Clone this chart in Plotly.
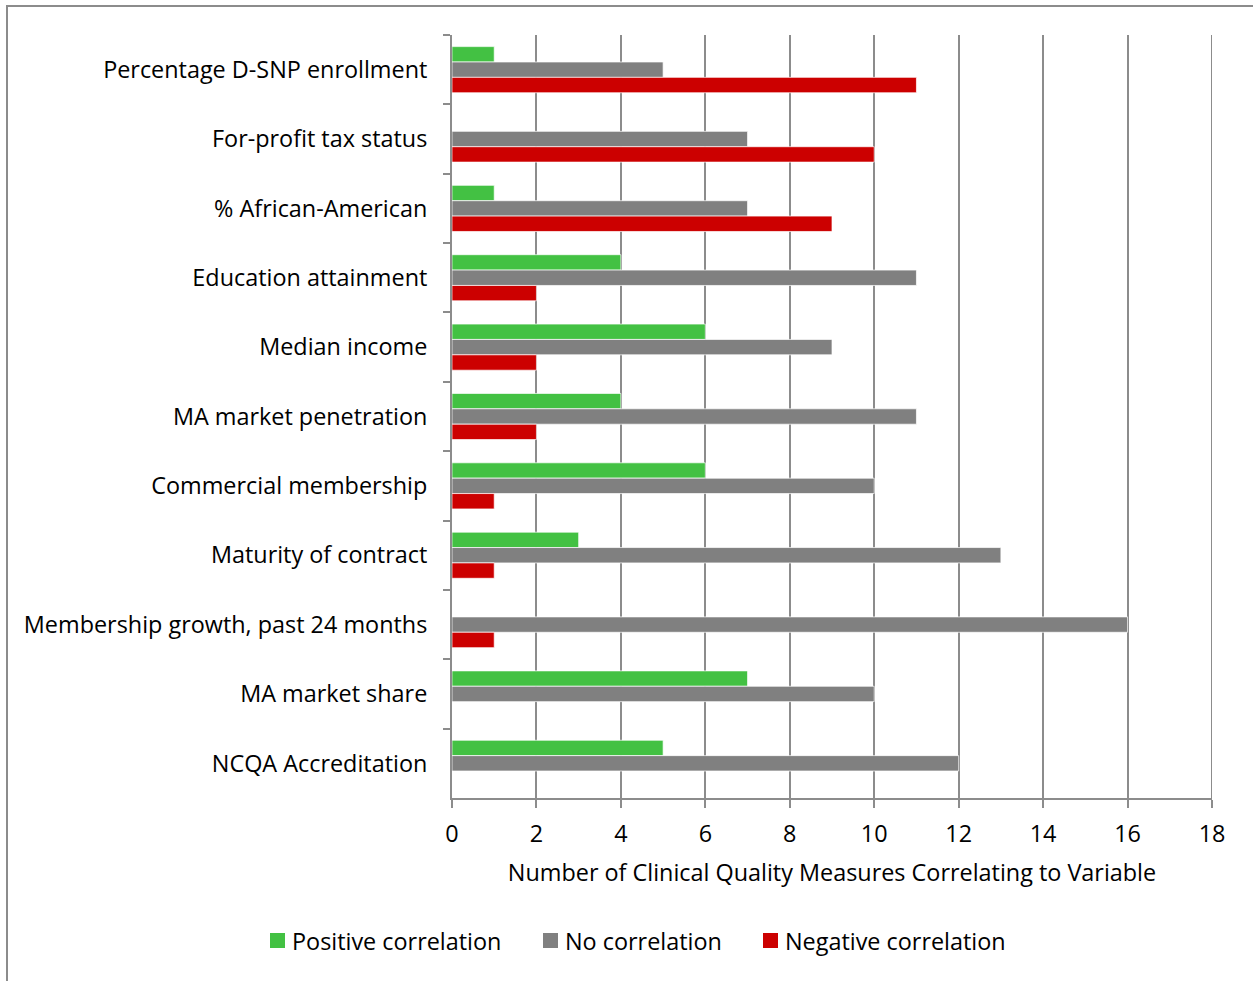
import plotly.graph_objects as go

categories = [
    "Percentage D-SNP enrollment",
    "For-profit tax status",
    "% African-American",
    "Education attainment",
    "Median income",
    "MA market penetration",
    "Commercial membership",
    "Maturity of contract",
    "Membership growth, past 24 months",
    "MA market share",
    "NCQA Accreditation",
]
positive = [1, 0, 1, 4, 6, 4, 6, 3, 0, 7, 5]
no_corr = [5, 7, 7, 11, 9, 11, 10, 13, 16, 10, 12]
negative = [11, 10, 9, 2, 2, 2, 1, 1, 1, 0, 0]
x_max = 18

series = [
    ("Positive correlation", positive, "#43C143"),
    ("No correlation", no_corr, "#808080"),
    ("Negative correlation", negative, "#CC0000"),
]

FONT = "Open Sans"
FS = 23.4
GRID = "#8C8C8C"

fig = go.Figure()
for name, vals, color in series:
    fig.add_trace(go.Bar(
        y=categories, x=vals, name=name, orientation="h",
        marker=dict(color=color, line=dict(color="white", width=0.7)),
    ))

L, R, T, B = 452, 41, 35, 183
W, H = 1253, 981
pw, ph = W - L - R, H - T - B


def px_x(p):
    return (p - L) / pw


def px_y(p):
    return (T + ph - p) / ph


shapes = [
    dict(type="rect", xref="paper", yref="paper",
         x0=px_x(7), x1=px_x(W + 20), y0=px_y(H + 20), y1=px_y(6),
         line=dict(color=GRID, width=2), layer="below"),
    dict(type="line", xref="x", yref="paper", x0=x_max, x1=x_max, y0=0, y1=1,
         line=dict(color=GRID, width=2), layer="below"),
]
annotations = []
legend_items = [(270, 290), (543, 563), (763, 783)]
for (sx, tx), (name, _, color) in zip(legend_items, series):
    shapes.append(dict(type="rect", xref="paper", yref="paper",
                       x0=px_x(sx), x1=px_x(sx + 15), y0=px_y(948), y1=px_y(933),
                       fillcolor=color, line=dict(width=0)))
    annotations.append(dict(xref="paper", yref="paper", x=px_x(tx), y=px_y(941),
                            xanchor="left", yanchor="middle", showarrow=False,
                            text=name, font=dict(size=FS, family=FONT, color="black")))

fig.update_layout(
    width=W, height=H,
    margin=dict(l=L, r=R, t=T, b=B),
    barmode="group", bargap=0.335, bargroupgap=0,
    plot_bgcolor="white", paper_bgcolor="white",
    font=dict(family=FONT, size=FS, color="black"),
    showlegend=False,
    xaxis=dict(
        range=[0, x_max], dtick=2, tick0=0,
        showgrid=True, gridcolor=GRID, gridwidth=2,
        showline=True, linecolor=GRID, linewidth=2,
        ticks="outside", ticklen=8, tickwidth=2, tickcolor=GRID,
        zeroline=False, ticklabelstandoff=6,
        title=dict(text="Number of Clinical Quality Measures Correlating to Variable",
                   font=dict(size=FS), standoff=17),
        tickfont=dict(size=FS),
    ),
    yaxis=dict(
        autorange="reversed", type="category",
        showline=True, linecolor=GRID, linewidth=2,
        ticks="outside", ticklen=7, tickwidth=2, tickcolor=GRID,
        tickson="boundaries", showgrid=False,
        ticklabelstandoff=18,
        tickfont=dict(size=FS),
    ),
    shapes=shapes,
    annotations=annotations,
)

fig.write_html("out.html")
